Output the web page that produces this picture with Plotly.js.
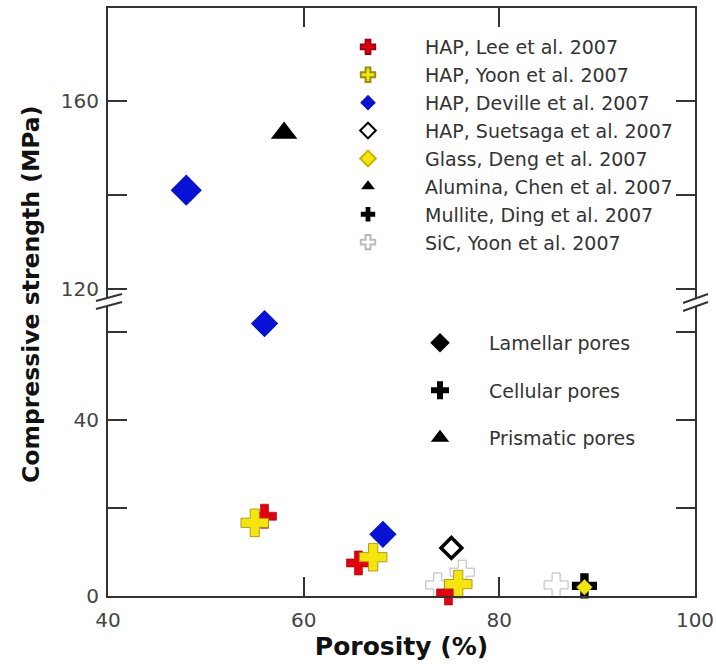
<!DOCTYPE html>
<html><head><meta charset="utf-8">
<script src="https://cdn.plot.ly/plotly-3.0.1.min.js"></script>
<style>html,body{margin:0;padding:0;background:#fff}</style>
</head><body><div id="chart" style="width:716px;height:664px"></div>
<script>
// ---- data ----
const leeX = [56.0, 65.6, 74.8];       const leeY = [18.1, 7.5, 0.7];
const yoonX = [55.0, 67.1, 75.8];      const yoonY = [16.6, 8.8, 2.7];
const devUpX = [48.0];                 const devUpY = [141.0];
const devLoX = [56.0, 68.1];           const devLoY = [61.8, 14.0];
const sueX = [75.1];                   const sueY = [10.9];
const glassX = [88.7];                 const glassY = [2.0];
const aluX = [58.0];                   const aluY = [153.2];
const mulX = [88.7];                   const mulY = [2.3];
const sicX = [73.7, 76.2, 85.8];       const sicY = [2.5, 5.4, 2.5];

const seriesNames = ['HAP, Lee et al. 2007','HAP, Yoon et al. 2007','HAP, Deville et al. 2007',
  'HAP, Suetsaga et al. 2007','Glass, Deng et al. 2007','Alumina, Chen et al. 2007',
  'Mullite, Ding et al. 2007','SiC, Yoon et al. 2007'];
const poreNames = ['Lamellar pores','Cellular pores','Prismatic pores'];

const xTicks = [40, 60, 80, 100];
const xTopTicks = [60, 80];
const yLowTicks = [0, 20, 40, 60];   const yLowText = ['0','','40',''];
const yUpTicks = [120, 140, 160];   const yUpText = ['120','','160'];

// ---- layout helpers ----
const W = 716, H = 664, ML = 108, MR = 21, MT = 8, MB = 68;
const PW = W - ML - MR, PH = H - MT - MB;
const px = v => (v - ML) / PW;
const py = v => (H - MB - v) / PH;
const FONT = 'DejaVu Sans, Verdana, sans-serif';

const RED = '#e5000f', YEL = '#f4e60c', BLUE = '#0812d4';

const lo = {xaxis: 'x', yaxis: 'y', cliponaxis: false, mode: 'markers', type: 'scatter', hoverinfo: 'x+y'};
const up = {xaxis: 'x2', yaxis: 'y2', cliponaxis: false, mode: 'markers', type: 'scatter', hoverinfo: 'x+y'};

const traces = [
  Object.assign({}, lo, {x: sicX, y: sicY, name: seriesNames[7], legendgroup: 'g8', legendrank: 8,
    marker: {symbol: 'cross', size: 20, color: '#ffffff', line: {color: '#b8b8b8', width: 1}}}),
  Object.assign({}, lo, {x: leeX, y: leeY, name: seriesNames[0], legendgroup: 'g1', legendrank: 1,
    marker: {symbol: 'cross', size: 20, color: RED, line: {color: '#a00010', width: 0.6}}}),
  Object.assign({}, lo, {x: yoonX, y: yoonY, name: seriesNames[1], legendgroup: 'g2', legendrank: 2,
    marker: {symbol: 'cross', size: 23, color: YEL, line: {color: '#9a8c10', width: 0.8}}}),
  Object.assign({}, lo, {x: devLoX, y: devLoY, name: seriesNames[2], legendgroup: 'g3', showlegend: false,
    marker: {symbol: 'diamond', size: 21, color: BLUE, line: {width: 0}}}),
  Object.assign({}, lo, {x: sueX, y: sueY, name: seriesNames[3], legendgroup: 'g4', legendrank: 4,
    marker: {symbol: 'diamond-open', size: 16, color: '#000', line: {color: '#000', width: 3.5}}}),
  Object.assign({}, lo, {x: mulX, y: mulY, name: seriesNames[6], legendgroup: 'g7', legendrank: 7,
    marker: {symbol: 'cross', size: 21, color: '#000', line: {width: 0}}}),
  Object.assign({}, lo, {x: glassX, y: glassY, name: seriesNames[4], legendgroup: 'g5', legendrank: 5,
    marker: {symbol: 'diamond', size: 12, color: YEL, line: {color: '#c8b400', width: 0.8}}}),
  Object.assign({}, up, {x: devUpX, y: devUpY, name: seriesNames[2], legendgroup: 'g3', legendrank: 3,
    marker: {symbol: 'diamond', size: 24, color: BLUE, line: {width: 0}}}),
  Object.assign({}, up, {x: aluX, y: aluY, name: seriesNames[5], legendgroup: 'g6', legendrank: 6,
    marker: {symbol: 'triangle-up', size: 23, color: '#000', line: {width: 0}}}),
  // pore-type key (second legend)
  Object.assign({}, lo, {x: [null], y: [null], name: poreNames[0], legend: 'legend2', legendgroup: 'p1', legendrank: 1,
    marker: {symbol: 'diamond', size: 15, color: '#000'}}),
  Object.assign({}, lo, {x: [null], y: [null], name: poreNames[1], legend: 'legend2', legendgroup: 'p2', legendrank: 2,
    marker: {symbol: 'cross', size: 15, color: '#000'}}),
  Object.assign({}, lo, {x: [null], y: [null], name: poreNames[2], legend: 'legend2', legendgroup: 'p3', legendrank: 3,
    marker: {symbol: 'triangle-up', size: 16, color: '#000'}})
];

const axisCommon = {
  showline: true, linecolor: '#333', linewidth: 2,
  ticks: 'inside', ticklen: 19, tickwidth: 2, tickcolor: '#333',
  showgrid: false, zeroline: false, fixedrange: true,
  tickfont: {family: FONT, size: 20, color: '#444'}
};

function brk(x1, y1, x2, y2, dy) {
  return [
    {type: 'path', xref: 'paper', yref: 'paper', layer: 'above', line: {width: 0}, fillcolor: '#fff',
     path: `M${px(x1)},${py(y1)} L${px(x2)},${py(y2)} L${px(x2)},${py(y2 + dy)} L${px(x1)},${py(y1 + dy)} Z`},
    {type: 'line', xref: 'paper', yref: 'paper', layer: 'above', line: {color: '#333', width: 2},
     x0: px(x1), y0: py(y1), x1: px(x2), y1: py(y2)},
    {type: 'line', xref: 'paper', yref: 'paper', layer: 'above', line: {color: '#333', width: 2},
     x0: px(x1), y0: py(y1 + dy), x1: px(x2), y1: py(y2 + dy)}
  ];
}

const layout = {
  width: W, height: H,
  margin: {l: ML, r: MR, t: MT, b: MB, pad: 0},
  paper_bgcolor: '#fff', plot_bgcolor: '#fff',
  font: {family: FONT, color: '#333'},
  xaxis: Object.assign({}, axisCommon, {
    domain: [0, 1], range: [40, 100], anchor: 'y', tickvals: xTicks, ticklabelstandoff: 5,
    title: {text: 'Porosity (%)', standoff: 0, font: {family: FONT, size: 25, color: '#111', weight: 'bold'}}
  }),
  xaxis2: Object.assign({}, axisCommon, {
    domain: [0, 1], range: [40, 100], anchor: 'y2', side: 'top', tickvals: xTopTicks, showticklabels: false
  }),
  yaxis: Object.assign({}, axisCommon, {
    domain: [0, 0.5], range: [0, 66.7], anchor: 'x', mirror: 'ticks', tickvals: yLowTicks, ticktext: yLowText,
    ticklabelstandoff: 3
  }),
  yaxis2: Object.assign({}, axisCommon, {
    domain: [0.5, 1], range: [117.2, 179.8], anchor: 'x2', mirror: 'ticks', tickvals: yUpTicks, ticktext: yUpText,
    ticklabelstandoff: 3
  }),
  showlegend: true,
  legend: {
    x: px(311), y: py(28), xanchor: 'left', yanchor: 'top',
    itemwidth: 104, itemsizing: 'constant', tracegroupgap: 0.2, traceorder: 'grouped',
    bgcolor: 'rgba(0,0,0,0)', borderwidth: 0,
    font: {family: FONT, size: 19, color: '#333'}
  },
  legend2: {
    x: px(391), y: py(324), xanchor: 'left', yanchor: 'top',
    itemwidth: 88, tracegroupgap: 19.8, traceorder: 'grouped',
    bgcolor: 'rgba(0,0,0,0)', borderwidth: 0,
    font: {family: FONT, size: 19, color: '#333'}
  },
  annotations: [{
    text: 'Compressive strength (MPa)', textangle: -90, showarrow: false,
    xref: 'paper', yref: 'paper', x: px(31), y: py(295), xanchor: 'center', yanchor: 'middle',
    font: {family: FONT, size: 23.5, color: '#111', weight: 'bold'}
  }],
  shapes: [].concat(brk(96, 301, 122, 294, 8), brk(683, 303, 708, 294, 8))
};

Plotly.newPlot('chart', traces, layout, {displayModeBar: false, staticPlot: true});
</script>
</body></html>
